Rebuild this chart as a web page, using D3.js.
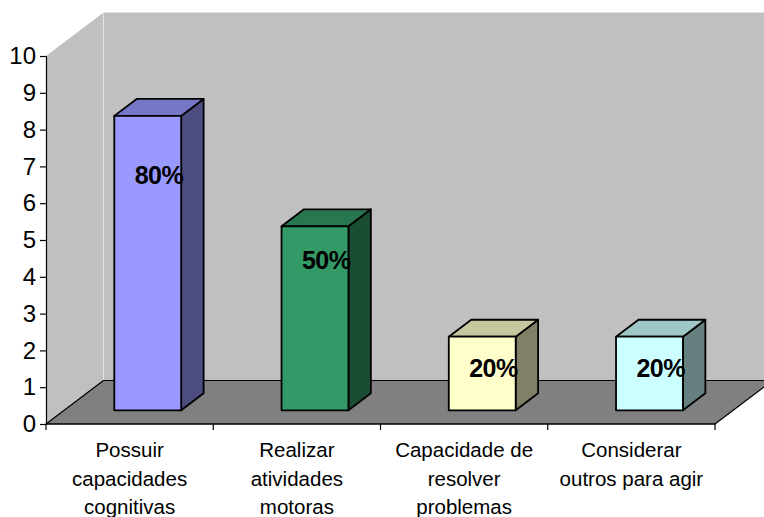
<!DOCTYPE html>
<html>
<head>
<meta charset="utf-8">
<script src="https://cdn.jsdelivr.net/npm/d3@7"></script>
<style>
  html, body { margin: 0; padding: 0; background: #fff; }
  svg { display: block; font-family: "Liberation Sans", Arial, sans-serif; }
</style>
</head>
<body>
<svg id="chart" width="764" height="517"></svg>
<script>
// Survey answers: number of respondents (out of 10) per category
const categories = [
  "Possuir\ncapacidades\ncognitivas",
  "Realizar\natividades\nmotoras",
  "Capacidade de\nresolver\nproblemas",
  "Considerar\noutros para agir"
];
const counts = [8, 5, 2, 2];
const totalRespondents = 10;
const barColors = ["#9999FF", "#339966", "#FFFFCC", "#CCFFFF"];
const yTicks = [0, 1, 2, 3, 4, 5, 6, 7, 8, 9, 10];

const svg = d3.select("#chart");

// Plot frame (front plane) and 3D depth vector
const plotLeft = 46, plotRight = 715, plotBottom = 424, plotTop = 56;
const depth = { x: 57.5, y: -43.5 };
const barFront = 0.315, barBack = 0.705;   // bar position within the depth

const x = d3.scaleBand()
  .domain(categories)
  .range([plotLeft, plotRight])
  .paddingInner(0.6)
  .paddingOuter(0.3);

const y = d3.scaleLinear().domain([0, 10]).range([plotBottom, plotTop]);

const pts = a => a.map(p => p.join(",")).join(" ");
const wallEnd = 780; // walls run past the right edge of the view

// Left side wall
svg.append("polygon")
  .attr("points", pts([
    [plotLeft, y(10)], [plotLeft + depth.x, y(10) + depth.y],
    [plotLeft + depth.x, y(0) + depth.y], [plotLeft, y(0)]
  ]))
  .attr("fill", "#C0C0C0");

// Back wall
svg.append("polygon")
  .attr("points", pts([
    [plotLeft + depth.x, y(10) + depth.y], [wallEnd, y(10) + depth.y],
    [wallEnd, y(0) + depth.y], [plotLeft + depth.x, y(0) + depth.y]
  ]))
  .attr("fill", "#C0C0C0");

// Corner between walls
svg.append("line")
  .attr("x1", plotLeft + depth.x).attr("x2", plotLeft + depth.x)
  .attr("y1", y(10) + depth.y).attr("y2", y(0) + depth.y)
  .attr("stroke", "#E4E4E4").attr("stroke-width", 1);

// Floor
svg.append("polygon")
  .attr("points", pts([
    [plotLeft, y(0)], [plotLeft + depth.x, y(0) + depth.y],
    [plotRight + depth.x, y(0) + depth.y], [plotRight, y(0)]
  ]))
  .attr("fill", "#808080")
  .attr("stroke", "#000")
  .attr("stroke-width", 1.2)
  .attr("stroke-linejoin", "round");

// Y axis
const yAxis = svg.append("g")
  .attr("transform", `translate(${plotLeft},0)`)
  .call(d3.axisLeft(y).tickValues(yTicks).tickSize(6).tickPadding(4).tickFormat(d3.format("d")));
yAxis.select(".domain").attr("stroke", "#000").attr("stroke-width", 1.2);
yAxis.selectAll(".tick line").attr("stroke", "#000").attr("stroke-width", 1.2);
yAxis.selectAll(".tick text")
  .attr("fill", "#000")
  .style("font-family", "'Liberation Sans', Arial, sans-serif")
  .style("font-size", "24px");

// X axis baseline and category dividers
svg.append("line")
  .attr("x1", plotLeft).attr("x2", plotRight)
  .attr("y1", plotBottom).attr("y2", plotBottom)
  .attr("stroke", "#000").attr("stroke-width", 1.2);
d3.range(categories.length + 1).forEach(i => {
  const xb = plotLeft + i * x.step();
  svg.append("line")
    .attr("x1", xb).attr("x2", xb)
    .attr("y1", plotBottom).attr("y2", plotBottom + 6)
    .attr("stroke", "#000").attr("stroke-width", 1.2);
});

// Category labels
const catG = svg.append("g")
  .attr("font-size", "20.5px")
  .attr("fill", "#000")
  .attr("text-anchor", "middle");
categories.forEach(c => {
  const cx = x(c) + x.bandwidth() / 2;
  const t = catG.append("text").attr("x", cx).attr("y", 457);
  c.split("\n").forEach((line, i) => {
    t.append("tspan")
      .attr("x", cx)
      .attr("y", 457 + i * 28.5)
      .text(line);
  });
});

// 3D bars
const shade = (col, k) => {
  const c = d3.rgb(col);
  return d3.rgb(c.r * k, c.g * k, c.b * k).formatHex();
};
const bx = barBack - barFront;
const barsG = svg.append("g");
categories.forEach((c, i) => {
  const v = counts[i];
  const x0 = x(c) + barFront * depth.x;
  const x1 = x0 + x.bandwidth();
  const yb = y(0) + barFront * depth.y;
  const yt = y(v) + barFront * depth.y;
  const dx = bx * depth.x, dy = bx * depth.y;
  const g = barsG.append("g")
    .attr("stroke", "#000")
    .attr("stroke-width", 1.8)
    .attr("stroke-linejoin", "round");
  // side face
  g.append("polygon")
    .attr("points", pts([[x1, yt], [x1 + dx, yt + dy], [x1 + dx, yb + dy], [x1, yb]]))
    .attr("fill", shade(barColors[i], 0.5));
  // top face
  g.append("polygon")
    .attr("points", pts([[x0, yt], [x0 + dx, yt + dy], [x1 + dx, yt + dy], [x1, yt]]))
    .attr("fill", shade(barColors[i], 0.78));
  // front face
  g.append("rect")
    .attr("x", x0).attr("y", yt)
    .attr("width", x1 - x0).attr("height", yb - yt)
    .attr("fill", barColors[i]);

  // percentage label on the bar
  const base = Math.max(yt + 40, y(v * 0.77) + barFront * depth.y);
  svg.append("text")
    .attr("x", x1 + 2)
    .attr("y", base)
    .attr("text-anchor", "end")
    .attr("font-size", "25px")
    .attr("font-weight", "bold")
    .attr("letter-spacing", "-0.5")
    .attr("fill", "#000")
    .text(d3.format(".0%")(v / totalRespondents));
});
</script>
</body>
</html>
